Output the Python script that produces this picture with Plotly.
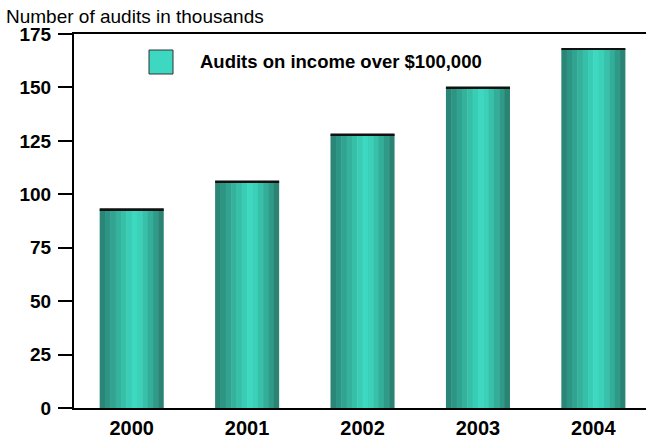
import plotly.graph_objects as go

# ---- data ----
years = ["2000", "2001", "2002", "2003", "2004"]
audits = [93, 106, 128, 150, 168]
y_tick_values = [0, 25, 50, 75, 100, 125, 150, 175]
series_name = "Audits on income over $100,000"
y_axis_title = "Number of audits in thousands"

# ---- style ----
FONT = "Liberation Sans, Arial, Helvetica, sans-serif"
stripe_colors = [
    "#2a8676", "#2d9583", "#31a390", "#34b29c", "#37c0a9", "#3acdb5",
    "#3dd8c0", "#3bd0b8", "#37c1aa", "#33ae99", "#2f9a87", "#2a8373",
]
bar_width = 0.555
n = len(stripe_colors)
sw = bar_width / n

fig = go.Figure()
for i, c in enumerate(stripe_colors):
    fig.add_trace(go.Bar(
        x=years, y=audits,
        width=sw + (0.004 if i < n - 1 else 0),
        offset=-bar_width / 2 + i * sw,
        marker=dict(color=c, line=dict(width=0)),
        showlegend=False, hoverinfo="skip",
    ))

# dark top edge of each bar
edge_h = 0.9
fig.add_trace(go.Bar(
    x=years, y=[edge_h] * len(audits),
    base=[v - edge_h / 2 for v in audits],
    width=bar_width, offset=-bar_width / 2,
    marker=dict(color="#111111", line=dict(width=0)),
    showlegend=False, hoverinfo="skip",
))

fig.update_layout(
    width=646, height=438,
    margin=dict(l=74, r=0, t=34, b=30),
    paper_bgcolor="white", plot_bgcolor="white",
    barmode="overlay",
    showlegend=False,
    font=dict(family=FONT, color="black"),
    title=dict(
        text=y_axis_title, xref="container", yref="container",
        x=6 / 646, xanchor="left", y=1 - 16 / 438, yanchor="middle",
        font=dict(family=FONT, size=19, color="black"),
    ),
    xaxis=dict(
        type="category", range=[-0.5, 4.456], automargin=False,
        showline=True, linecolor="black", linewidth=2, mirror=True,
        ticks="", showgrid=False, zeroline=False,
        tickfont=dict(family=FONT, size=20, weight="bold", color="black"),
        ticklabelstandoff=1,
    ),
    yaxis=dict(
        range=[0, 175], tickvals=y_tick_values, automargin=False,
        showline=True, linecolor="black", linewidth=2,
        ticks="outside", ticklen=14, tickwidth=2, tickcolor="black",
        showgrid=False, zeroline=False,
        tickfont=dict(family=FONT, size=19, weight="bold", color="black"),
        ticklabelstandoff=3,
    ),
    shapes=[dict(
        type="rect", xref="paper", yref="paper",
        x0=(149 - 74) / 572, x1=(173 - 74) / 572,
        y0=1 - (74 - 34) / 374, y1=1 - (50 - 34) / 374,
        fillcolor="#3dd8c1", line=dict(color="#333333", width=1),
    )],
    annotations=[dict(
        text=series_name, xref="paper", yref="paper",
        x=(198 - 74) / 572, xanchor="left",
        y=1 - (62 - 34) / 374, yanchor="middle",
        showarrow=False,
        font=dict(family=FONT, size=18.5, weight="bold", color="black"),
    )],
)

fig.write_html(
    "out.html",
    config={"displayModeBar": False},
    post_script="document.body.style.margin='0';document.body.style.padding='0';",
)
